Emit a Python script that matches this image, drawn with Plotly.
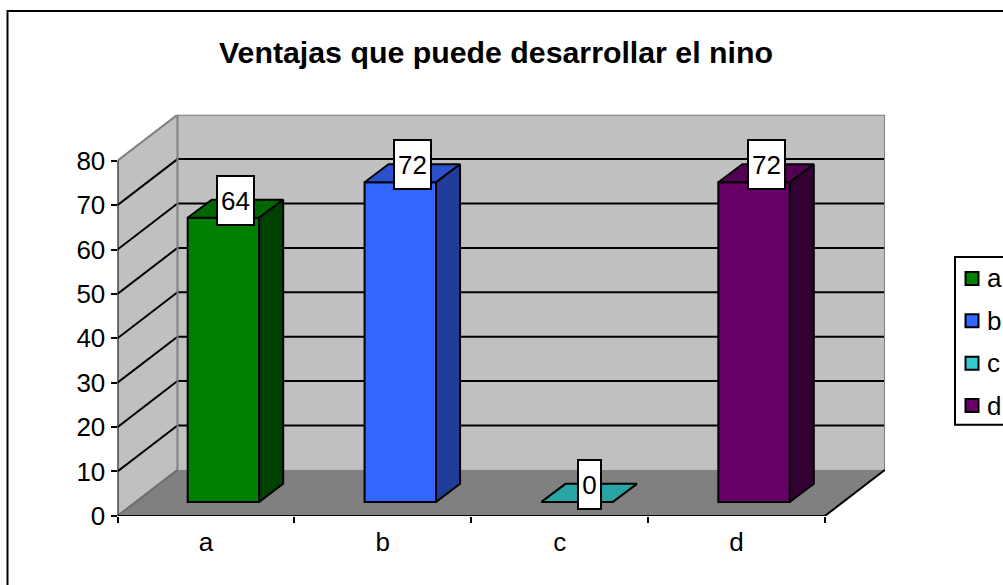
import plotly.graph_objects as go

# --- data ---
categories = ["a", "b", "c", "d"]
values = [64, 72, 0, 72]
title_text = "Ventajas que puede desarrollar el nino"
y_ticks = [0, 10, 20, 30, 40, 50, 60, 70, 80]
front_colors = ["#008000", "#3366FF", "#33CCCC", "#660066"]
top_colors = ["#006600", "#2952CC", "#29A3A3", "#520052"]
side_colors = ["#004000", "#1F3D99", "#1F7A7A", "#330033"]

# --- layout geometry (pixels of the page) ---
W, H = 1003, 585
PX_L, PX_R, PX_B, PX_T = 117.5, 885.0, 515.0, 114.5
UX = 176.9          # px per category
UY = 4.4375         # px per unit of value
FLOOR_DX = 60 / UX
FLOOR_DY = 46 / UY
BAR_W = 71.5 / UX
BAR_OFF_X = 17.5 / UX
BAR_OFF_Y = 14 / UY
BAR_DX = 24 / UX
BAR_DY = 18 / UY
N = len(categories)
TOP = max(y_ticks)
FS = 26

fig = go.Figure()

# front faces
xs = [i + 0.5 + BAR_OFF_X for i in range(N)]
for i, c in enumerate(categories):
    fig.add_trace(go.Bar(
        x=[xs[i]], y=[values[i]], base=[BAR_OFF_Y], width=BAR_W, name=c,
        marker=dict(color=front_colors[i], line=dict(color="black", width=2)),
        showlegend=False, hoverinfo="skip"))

# top and side faces
for i, c in enumerate(categories):
    l, r = xs[i] - BAR_W / 2, xs[i] + BAR_W / 2
    b, t = BAR_OFF_Y, BAR_OFF_Y + values[i]
    fig.add_trace(go.Scatter(
        x=[l, r, r + BAR_DX, l + BAR_DX, l], y=[t, t, t + BAR_DY, t + BAR_DY, t],
        mode="lines", fill="toself", fillcolor=top_colors[i],
        line=dict(color="black", width=2), showlegend=False, hoverinfo="skip"))
    if values[i] > 0:
        fig.add_trace(go.Scatter(
            x=[r, r + BAR_DX, r + BAR_DX, r, r], y=[b, b + BAR_DY, t + BAR_DY, t, b],
            mode="lines", fill="toself", fillcolor=side_colors[i],
            line=dict(color="black", width=2), showlegend=False, hoverinfo="skip"))

# axis lines
fig.add_trace(go.Scatter(x=[0, 0, N], y=[TOP, 0, 0], mode="lines", cliponaxis=False,
                         line=dict(color="black", width=2), showlegend=False, hoverinfo="skip"))

shapes = []
def poly(xv, yv, fill, line=None, width=0):
    path = "M" + "L".join(f"{x},{y}" for x, y in zip(xv, yv)) + "Z"
    shapes.append(dict(type="path", path=path, xref="x", yref="y", layer="below",
                       fillcolor=fill, line=dict(color=line or fill, width=width)))
def seg(x0, y0, x1, y1, color="black", width=2):
    shapes.append(dict(type="line", x0=x0, y0=y0, x1=x1, y1=y1, xref="x", yref="y",
                       layer="below", line=dict(color=color, width=width)))

# chart frame (runs off the page on the right and bottom, as in the original)
shapes.append(dict(type="rect", xref="paper", yref="paper", layer="below",
                   x0=7.5 / W, x1=1012 / W, y0=1 - 610 / H, y1=1 - 11 / H,
                   line=dict(color="black", width=2), fillcolor="white"))

poly([0, FLOOR_DX, FLOOR_DX, 0], [0, FLOOR_DY, TOP + FLOOR_DY, TOP], "#C0C0C0")
poly([FLOOR_DX, N + FLOOR_DX, N + FLOOR_DX, FLOOR_DX],
     [FLOOR_DY, FLOOR_DY, TOP + FLOOR_DY, TOP + FLOOR_DY], "#C0C0C0")
poly([0, N, N + FLOOR_DX, FLOOR_DX], [0, 0, FLOOR_DY, FLOOR_DY], "#808080")
for v in y_ticks[1:-1]:
    seg(0, v, FLOOR_DX, v + FLOOR_DY)
    seg(FLOOR_DX, v + FLOOR_DY, N + FLOOR_DX, v + FLOOR_DY)
GR = "#808080"
seg(0, TOP, FLOOR_DX, TOP + FLOOR_DY, GR)
seg(FLOOR_DX, TOP + FLOOR_DY, N + FLOOR_DX, TOP + FLOOR_DY, GR)
seg(N + FLOOR_DX, TOP + FLOOR_DY, N + FLOOR_DX, FLOOR_DY, GR)
seg(FLOOR_DX, TOP + FLOOR_DY, FLOOR_DX, FLOOR_DY, GR)
seg(0, 0, FLOOR_DX, FLOOR_DY, "#6e6e6e")
seg(N, 0, N + FLOOR_DX, FLOOR_DY, "black")

# legend
LG_L, LG_T, LG_B, ROW0, ROW = 955, 256.5, 424, 278, 42.3
shapes.append(dict(type="rect", xref="paper", yref="paper",
                   x0=LG_L / W, x1=1012 / W, y0=1 - LG_B / H, y1=1 - LG_T / H,
                   line=dict(color="black", width=2), fillcolor="white"))
annotations = []
for i, c in enumerate(categories):
    yc = ROW0 + ROW * i
    shapes.append(dict(type="rect", xref="paper", yref="paper",
                       x0=965.5 / W, x1=978.5 / W, y0=1 - (yc + 6.5) / H, y1=1 - (yc - 6.5) / H,
                       line=dict(color="black", width=2), fillcolor=front_colors[i]))
    annotations.append(dict(text=c, xref="paper", yref="paper", x=985 / W, y=1 - yc / H,
                            xanchor="left", yanchor="middle", showarrow=False,
                            font=dict(size=FS, color="black")))

# data labels
for i, c in enumerate(categories):
    annotations.append(dict(
        text=str(values[i]), x=xs[i] + BAR_DX / 2, y=BAR_OFF_Y + values[i] + BAR_DY / 2,
        xref="x", yref="y", showarrow=False, yshift=8.5, xshift=0,
        bgcolor="white", bordercolor="black", borderwidth=2, borderpad=0,
        width=(35 if values[i] >= 10 else 21), height=47, align="center", valign="middle",
        font=dict(size=FS, color="black")))

fig.update_layout(
    width=W, height=H + 16, margin=dict(l=0, r=0, t=0, b=0),
    paper_bgcolor="white", plot_bgcolor="rgba(0,0,0,0)",
    font=dict(family="Liberation Sans, Arial, sans-serif", color="black"),
    title=dict(text=f"<b>{title_text}</b>", x=496 / W, xanchor="center",
               y=1 - 51 / H, yanchor="middle", font=dict(size=30.3, color="black")),
    xaxis=dict(domain=[PX_L / W, PX_R / W], range=[0, N + FLOOR_DX], showgrid=False, zeroline=False,
               showline=False, tickmode="array", tickvals=[i + 0.5 for i in range(N)],
               ticktext=categories, ticks="outside", ticklen=3, tickcolor="rgba(0,0,0,0)",
               tickfont=dict(size=FS, color="black"),
               minor=dict(tickmode="array", tickvals=list(range(N + 1)), ticks="outside",
                          ticklen=6, tickwidth=2, tickcolor="black", showgrid=False)),
    yaxis=dict(domain=[1 - PX_B / H, 1 - PX_T / H], range=[0, TOP + FLOOR_DY], showgrid=False,
               zeroline=False, showline=False, tickmode="array", tickvals=y_ticks,
               ticks="outside", ticklen=6, tickwidth=2, tickcolor="black",
               tickfont=dict(size=FS, color="black")),
    shapes=shapes, annotations=annotations, barmode="overlay", showlegend=False,
)
fig.write_html("out.html", config=dict(displayModeBar=False),
               post_script="document.body.style.margin='0';document.documentElement.style.overflow='hidden';")
